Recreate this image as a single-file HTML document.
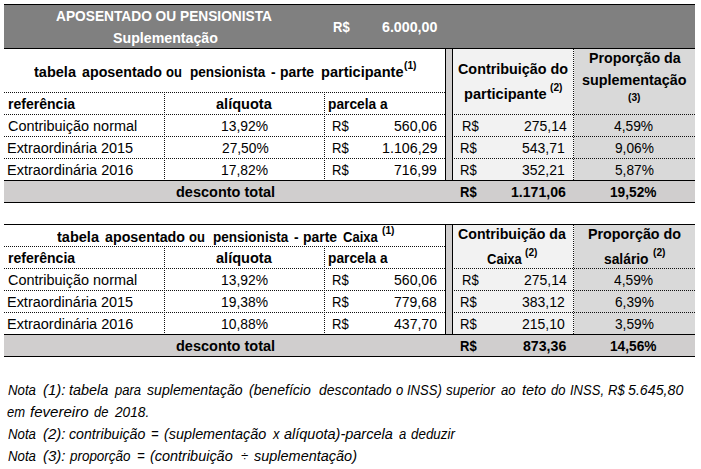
<!DOCTYPE html>
<html lang="pt"><head><meta charset="utf-8"><title>Tabela aposentado ou pensionista</title>
<style>
html,body{margin:0;padding:0;background:#fff;}
body{width:701px;height:469px;position:relative;overflow:hidden;font-family:"Liberation Sans",sans-serif;}
.r{position:absolute;}
.t{position:absolute;white-space:pre;line-height:20px;color:#000;}
</style></head><body>
<div class="r" style="left:4px;top:4px;width:691px;height:45px;background:#808080"></div>
<div class="r" style="left:4px;top:4px;width:691px;height:1px;background:#000"></div>
<div class="r" style="left:4px;top:48px;width:691px;height:1px;background:#000"></div>
<div class="r" style="left:453px;top:49px;width:120px;height:131px;background:#f2f2f2"></div>
<div class="r" style="left:574px;top:49px;width:121px;height:131px;background:#d9d9d9"></div>
<div class="r" style="left:446px;top:49px;width:6px;height:131px;background:#d0cece"></div>
<div class="r" style="left:445px;top:49px;width:1px;height:131px;background:#000"></div>
<div class="r" style="left:452px;top:49px;width:1px;height:131px;background:#000"></div>
<div class="r" style="left:573px;top:49px;width:1px;height:131px;background:repeating-linear-gradient(to bottom,#111 0 1px,transparent 1px 2px)"></div>
<div class="r" style="left:164px;top:92px;width:1px;height:88px;background:repeating-linear-gradient(to bottom,#111 0 1px,transparent 1px 2px)"></div>
<div class="r" style="left:324px;top:92px;width:1px;height:88px;background:repeating-linear-gradient(to bottom,#111 0 1px,transparent 1px 2px)"></div>
<div class="r" style="left:4px;top:92px;width:441px;height:1px;background:repeating-linear-gradient(to right,#111 0 1px,transparent 1px 2px)"></div>
<div class="r" style="left:4px;top:114px;width:441px;height:1px;background:repeating-linear-gradient(to right,#111 0 1px,transparent 1px 2px)"></div>
<div class="r" style="left:454px;top:114px;width:241px;height:1px;background:repeating-linear-gradient(to right,#111 0 1px,transparent 1px 2px)"></div>
<div class="r" style="left:4px;top:136px;width:441px;height:1px;background:repeating-linear-gradient(to right,#111 0 1px,transparent 1px 2px)"></div>
<div class="r" style="left:454px;top:136px;width:241px;height:1px;background:repeating-linear-gradient(to right,#111 0 1px,transparent 1px 2px)"></div>
<div class="r" style="left:4px;top:158px;width:441px;height:1px;background:repeating-linear-gradient(to right,#111 0 1px,transparent 1px 2px)"></div>
<div class="r" style="left:454px;top:158px;width:241px;height:1px;background:repeating-linear-gradient(to right,#111 0 1px,transparent 1px 2px)"></div>
<div class="r" style="left:4px;top:180px;width:691px;height:23px;background:#d0cece"></div>
<div class="r" style="left:4px;top:180px;width:691px;height:1px;background:#000"></div>
<div class="r" style="left:4px;top:202px;width:691px;height:1px;background:#000"></div>
<div class="r" style="left:453px;top:225px;width:120px;height:109px;background:#f2f2f2"></div>
<div class="r" style="left:574px;top:225px;width:121px;height:109px;background:#d9d9d9"></div>
<div class="r" style="left:446px;top:225px;width:6px;height:109px;background:#d0cece"></div>
<div class="r" style="left:445px;top:225px;width:1px;height:109px;background:#000"></div>
<div class="r" style="left:452px;top:225px;width:1px;height:109px;background:#000"></div>
<div class="r" style="left:4px;top:224px;width:691px;height:1px;background:#000"></div>
<div class="r" style="left:573px;top:225px;width:1px;height:109px;background:repeating-linear-gradient(to bottom,#111 0 1px,transparent 1px 2px)"></div>
<div class="r" style="left:164px;top:246px;width:1px;height:88px;background:repeating-linear-gradient(to bottom,#111 0 1px,transparent 1px 2px)"></div>
<div class="r" style="left:324px;top:246px;width:1px;height:88px;background:repeating-linear-gradient(to bottom,#111 0 1px,transparent 1px 2px)"></div>
<div class="r" style="left:4px;top:246px;width:441px;height:1px;background:repeating-linear-gradient(to right,#111 0 1px,transparent 1px 2px)"></div>
<div class="r" style="left:4px;top:268px;width:441px;height:1px;background:repeating-linear-gradient(to right,#111 0 1px,transparent 1px 2px)"></div>
<div class="r" style="left:454px;top:268px;width:241px;height:1px;background:repeating-linear-gradient(to right,#111 0 1px,transparent 1px 2px)"></div>
<div class="r" style="left:4px;top:290px;width:441px;height:1px;background:repeating-linear-gradient(to right,#111 0 1px,transparent 1px 2px)"></div>
<div class="r" style="left:454px;top:290px;width:241px;height:1px;background:repeating-linear-gradient(to right,#111 0 1px,transparent 1px 2px)"></div>
<div class="r" style="left:4px;top:312px;width:441px;height:1px;background:repeating-linear-gradient(to right,#111 0 1px,transparent 1px 2px)"></div>
<div class="r" style="left:454px;top:312px;width:241px;height:1px;background:repeating-linear-gradient(to right,#111 0 1px,transparent 1px 2px)"></div>
<div class="r" style="left:4px;top:334px;width:691px;height:23px;background:#d0cece"></div>
<div class="r" style="left:4px;top:334px;width:691px;height:1px;background:#000"></div>
<div class="r" style="left:4px;top:356px;width:691px;height:1px;background:#000"></div>
<span class="t" style="left:56.30px;top:6.00px;font-size:14px;font-weight:bold;color:#fff;transform-origin:0 15.00px;transform:scaleX(0.9801);">APOSENTADO OU PENSIONISTA</span>
<span class="t" style="left:112.50px;top:28.00px;font-size:14px;font-weight:bold;color:#fff;transform-origin:0 15.00px;transform:scaleX(1.0134);">Suplementação</span>
<span class="t" style="left:333.18px;top:17.00px;font-size:14px;font-weight:bold;color:#fff;transform-origin:0 15.00px;transform:scaleX(0.9300);">R$</span>
<span class="t" style="left:382.20px;top:17.00px;font-size:14px;font-weight:bold;color:#fff;transform-origin:0 15.00px;transform:scaleX(1.0163);">6.000,00</span>
<span class="t" style="left:34.30px;top:62.00px;font-size:14px;font-weight:bold;transform-origin:0 15.00px;transform:scaleX(1.0375);">tabela</span>
<span class="t" style="left:82.00px;top:62.00px;font-size:14px;font-weight:bold;transform-origin:0 15.00px;transform:scaleX(1.0178);">aposentado</span>
<span class="t" style="left:166.15px;top:62.00px;font-size:14px;font-weight:bold;transform-origin:0 15.00px;transform:scaleX(0.9300);">ou</span>
<span class="t" style="left:189.60px;top:62.00px;font-size:14px;font-weight:bold;transform-origin:0 15.00px;transform:scaleX(0.9666);">pensionista</span>
<span class="t" style="left:270.60px;top:62.00px;font-size:14px;font-weight:bold;transform-origin:0 15.00px;transform:scaleX(0.9800);">-</span>
<span class="t" style="left:280.40px;top:62.00px;font-size:14px;font-weight:bold;transform-origin:0 15.00px;transform:scaleX(0.9957);">parte</span>
<span class="t" style="left:320.60px;top:62.00px;font-size:14px;font-weight:bold;transform-origin:0 15.00px;transform:scaleX(1.0394);">participante</span>
<span class="t" style="left:403.54px;top:55.00px;font-size:11.0px;font-weight:bold;transform-origin:0 14.00px;transform:scaleX(0.9300);">(1)</span>
<span class="t" style="left:8.00px;top:94.00px;font-size:14px;font-weight:bold;transform-origin:0 15.00px;transform:scaleX(1.0023);">referência</span>
<span class="t" style="left:216.40px;top:94.00px;font-size:14px;font-weight:bold;transform-origin:0 15.00px;transform:scaleX(1.0393);">alíquota</span>
<span class="t" style="left:328.30px;top:94.00px;font-size:14px;font-weight:bold;transform-origin:0 15.00px;transform:scaleX(0.9816);">parcela a</span>
<span class="t" style="left:8.00px;top:116.00px;font-size:14px;transform-origin:0 15.00px;transform:scaleX(1.0314);">Contribuição normal</span>
<span class="t" style="left:221.21px;top:116.00px;font-size:14px;transform-origin:0 15.00px;transform:scaleX(0.9906);">13,92%</span>
<span class="t" style="left:332.06px;top:116.00px;font-size:14px;transform-origin:0 15.00px;transform:scaleX(0.9351);">R$</span>
<span class="t" style="left:394.20px;top:116.00px;font-size:14px;transform-origin:0 15.00px;transform:scaleX(1.0039);">560,06</span>
<span class="t" style="left:6.97px;top:138.00px;font-size:14px;transform-origin:0 15.00px;transform:scaleX(1.0321);">Extraordinária 2015</span>
<span class="t" style="left:221.60px;top:138.00px;font-size:14px;transform-origin:0 15.00px;transform:scaleX(0.9823);">27,50%</span>
<span class="t" style="left:332.06px;top:138.00px;font-size:14px;transform-origin:0 15.00px;transform:scaleX(0.9351);">R$</span>
<span class="t" style="left:381.68px;top:138.00px;font-size:14px;transform-origin:0 15.00px;transform:scaleX(1.0184);">1.106,29</span>
<span class="t" style="left:6.97px;top:160.00px;font-size:14px;transform-origin:0 15.00px;transform:scaleX(1.0346);">Extraordinária 2016</span>
<span class="t" style="left:221.21px;top:160.00px;font-size:14px;transform-origin:0 15.00px;transform:scaleX(0.9906);">17,82%</span>
<span class="t" style="left:332.06px;top:160.00px;font-size:14px;transform-origin:0 15.00px;transform:scaleX(0.9351);">R$</span>
<span class="t" style="left:394.40px;top:160.00px;font-size:14px;transform-origin:0 15.00px;transform:scaleX(0.9992);">716,99</span>
<span class="t" style="left:175.80px;top:182.00px;font-size:14px;font-weight:bold;transform-origin:0 15.00px;transform:scaleX(1.0361);">desconto total</span>
<span class="t" style="left:458.30px;top:59.00px;font-size:14px;font-weight:bold;transform-origin:0 15.00px;transform:scaleX(1.0255);">Contribuição do</span>
<span class="t" style="left:464.00px;top:84.00px;font-size:14px;font-weight:bold;transform-origin:0 15.00px;transform:scaleX(1.0407);">participante</span>
<span class="t" style="left:550.49px;top:77.00px;font-size:11.0px;font-weight:bold;transform-origin:0 14.00px;transform:scaleX(0.9300);">(2)</span>
<span class="t" style="left:588.60px;top:48.00px;font-size:14px;font-weight:bold;transform-origin:0 15.00px;transform:scaleX(1.0160);">Proporção da</span>
<span class="t" style="left:582.00px;top:70.00px;font-size:14px;font-weight:bold;transform-origin:0 15.00px;transform:scaleX(1.0259);">suplementação</span>
<span class="t" style="left:627.59px;top:87.00px;font-size:11.0px;font-weight:bold;transform-origin:0 14.00px;transform:scaleX(0.9300);">(3)</span>
<span class="t" style="left:461.96px;top:116.00px;font-size:14px;transform-origin:0 15.00px;transform:scaleX(0.9351);">R$</span>
<span class="t" style="left:524.00px;top:116.00px;font-size:14px;transform-origin:0 15.00px;transform:scaleX(0.9992);">275,14</span>
<span class="t" style="left:614.30px;top:116.00px;font-size:14px;transform-origin:0 15.00px;transform:scaleX(0.9860);">4,59%</span>
<span class="t" style="left:459.96px;top:138.00px;font-size:14px;transform-origin:0 15.00px;transform:scaleX(0.9351);">R$</span>
<span class="t" style="left:522.00px;top:138.00px;font-size:14px;transform-origin:0 15.00px;transform:scaleX(0.9992);">543,71</span>
<span class="t" style="left:615.30px;top:138.00px;font-size:14px;transform-origin:0 15.00px;transform:scaleX(0.9784);">9,06%</span>
<span class="t" style="left:459.96px;top:160.00px;font-size:14px;transform-origin:0 15.00px;transform:scaleX(0.9351);">R$</span>
<span class="t" style="left:522.00px;top:160.00px;font-size:14px;transform-origin:0 15.00px;transform:scaleX(0.9992);">352,21</span>
<span class="t" style="left:615.30px;top:160.00px;font-size:14px;transform-origin:0 15.00px;transform:scaleX(0.9784);">5,87%</span>
<span class="t" style="left:459.93px;top:182.00px;font-size:14px;font-weight:bold;transform-origin:0 15.00px;transform:scaleX(0.9300);">R$</span>
<span class="t" style="left:510.90px;top:182.00px;font-size:14px;font-weight:bold;transform-origin:0 15.00px;transform:scaleX(1.0071);">1.171,06</span>
<span class="t" style="left:610.40px;top:182.00px;font-size:14px;font-weight:bold;transform-origin:0 15.00px;transform:scaleX(0.9785);">19,52%</span>
<span class="t" style="left:57.30px;top:227.00px;font-size:14px;font-weight:bold;transform-origin:0 15.00px;transform:scaleX(1.0375);">tabela</span>
<span class="t" style="left:105.00px;top:227.00px;font-size:14px;font-weight:bold;transform-origin:0 15.00px;transform:scaleX(1.0178);">aposentado</span>
<span class="t" style="left:189.15px;top:227.00px;font-size:14px;font-weight:bold;transform-origin:0 15.00px;transform:scaleX(0.9300);">ou</span>
<span class="t" style="left:212.60px;top:227.00px;font-size:14px;font-weight:bold;transform-origin:0 15.00px;transform:scaleX(0.9666);">pensionista</span>
<span class="t" style="left:293.60px;top:227.00px;font-size:14px;font-weight:bold;transform-origin:0 15.00px;transform:scaleX(0.9800);">-</span>
<span class="t" style="left:303.40px;top:227.00px;font-size:14px;font-weight:bold;transform-origin:0 15.00px;transform:scaleX(0.9957);">parte</span>
<span class="t" style="left:342.78px;top:227.00px;font-size:14px;font-weight:bold;transform-origin:0 15.00px;transform:scaleX(0.9300);">Caixa</span>
<span class="t" style="left:381.89px;top:220.00px;font-size:11.0px;font-weight:bold;transform-origin:0 14.00px;transform:scaleX(0.9300);">(1)</span>
<span class="t" style="left:8.00px;top:248.00px;font-size:14px;font-weight:bold;transform-origin:0 15.00px;transform:scaleX(1.0023);">referência</span>
<span class="t" style="left:216.40px;top:248.00px;font-size:14px;font-weight:bold;transform-origin:0 15.00px;transform:scaleX(1.0393);">alíquota</span>
<span class="t" style="left:328.30px;top:248.00px;font-size:14px;font-weight:bold;transform-origin:0 15.00px;transform:scaleX(0.9816);">parcela a</span>
<span class="t" style="left:8.00px;top:270.00px;font-size:14px;transform-origin:0 15.00px;transform:scaleX(1.0314);">Contribuição normal</span>
<span class="t" style="left:221.21px;top:270.00px;font-size:14px;transform-origin:0 15.00px;transform:scaleX(0.9906);">13,92%</span>
<span class="t" style="left:332.06px;top:270.00px;font-size:14px;transform-origin:0 15.00px;transform:scaleX(0.9351);">R$</span>
<span class="t" style="left:394.20px;top:270.00px;font-size:14px;transform-origin:0 15.00px;transform:scaleX(1.0039);">560,06</span>
<span class="t" style="left:6.97px;top:292.00px;font-size:14px;transform-origin:0 15.00px;transform:scaleX(1.0321);">Extraordinária 2015</span>
<span class="t" style="left:221.21px;top:292.00px;font-size:14px;transform-origin:0 15.00px;transform:scaleX(0.9906);">19,38%</span>
<span class="t" style="left:332.06px;top:292.00px;font-size:14px;transform-origin:0 15.00px;transform:scaleX(0.9351);">R$</span>
<span class="t" style="left:394.40px;top:292.00px;font-size:14px;transform-origin:0 15.00px;transform:scaleX(0.9992);">779,68</span>
<span class="t" style="left:6.97px;top:314.00px;font-size:14px;transform-origin:0 15.00px;transform:scaleX(1.0346);">Extraordinária 2016</span>
<span class="t" style="left:221.21px;top:314.00px;font-size:14px;transform-origin:0 15.00px;transform:scaleX(0.9906);">10,88%</span>
<span class="t" style="left:332.06px;top:314.00px;font-size:14px;transform-origin:0 15.00px;transform:scaleX(0.9351);">R$</span>
<span class="t" style="left:394.20px;top:314.00px;font-size:14px;transform-origin:0 15.00px;transform:scaleX(1.0039);">437,70</span>
<span class="t" style="left:175.80px;top:336.00px;font-size:14px;font-weight:bold;transform-origin:0 15.00px;transform:scaleX(1.0361);">desconto total</span>
<span class="t" style="left:458.20px;top:224.00px;font-size:14px;font-weight:bold;transform-origin:0 15.00px;transform:scaleX(1.0115);">Contribuição da</span>
<span class="t" style="left:486.83px;top:249.00px;font-size:14px;font-weight:bold;transform-origin:0 15.00px;transform:scaleX(0.9300);">Caixa</span>
<span class="t" style="left:525.49px;top:242.00px;font-size:11.0px;font-weight:bold;transform-origin:0 14.00px;transform:scaleX(0.9300);">(2)</span>
<span class="t" style="left:588.00px;top:224.00px;font-size:14px;font-weight:bold;transform-origin:0 15.00px;transform:scaleX(1.0226);">Proporção do</span>
<span class="t" style="left:604.00px;top:249.00px;font-size:14px;font-weight:bold;transform-origin:0 15.00px;transform:scaleX(0.9869);">salário</span>
<span class="t" style="left:652.59px;top:242.00px;font-size:11.0px;font-weight:bold;transform-origin:0 14.00px;transform:scaleX(0.9300);">(2)</span>
<span class="t" style="left:461.96px;top:270.00px;font-size:14px;transform-origin:0 15.00px;transform:scaleX(0.9351);">R$</span>
<span class="t" style="left:524.00px;top:270.00px;font-size:14px;transform-origin:0 15.00px;transform:scaleX(0.9992);">275,14</span>
<span class="t" style="left:614.30px;top:270.00px;font-size:14px;transform-origin:0 15.00px;transform:scaleX(0.9860);">4,59%</span>
<span class="t" style="left:459.96px;top:292.00px;font-size:14px;transform-origin:0 15.00px;transform:scaleX(0.9351);">R$</span>
<span class="t" style="left:522.00px;top:292.00px;font-size:14px;transform-origin:0 15.00px;transform:scaleX(0.9992);">383,12</span>
<span class="t" style="left:615.30px;top:292.00px;font-size:14px;transform-origin:0 15.00px;transform:scaleX(0.9784);">6,39%</span>
<span class="t" style="left:459.96px;top:314.00px;font-size:14px;transform-origin:0 15.00px;transform:scaleX(0.9351);">R$</span>
<span class="t" style="left:522.00px;top:314.00px;font-size:14px;transform-origin:0 15.00px;transform:scaleX(0.9992);">215,10</span>
<span class="t" style="left:615.30px;top:314.00px;font-size:14px;transform-origin:0 15.00px;transform:scaleX(0.9784);">3,59%</span>
<span class="t" style="left:459.93px;top:336.00px;font-size:14px;font-weight:bold;transform-origin:0 15.00px;transform:scaleX(0.9300);">R$</span>
<span class="t" style="left:522.50px;top:336.00px;font-size:14px;font-weight:bold;transform-origin:0 15.00px;transform:scaleX(1.0108);">873,36</span>
<span class="t" style="left:610.40px;top:336.00px;font-size:14px;font-weight:bold;transform-origin:0 15.00px;transform:scaleX(0.9785);">14,56%</span>
<span class="t" style="left:7.60px;top:380.00px;font-size:14px;font-style:italic;transform-origin:0 15.00px;transform:scaleX(0.9434);">Nota</span>
<span class="t" style="left:43.20px;top:380.00px;font-size:14px;font-style:italic;transform-origin:0 15.00px;transform:scaleX(1.0706);">(1):</span>
<span class="t" style="left:69.00px;top:380.00px;font-size:14px;font-style:italic;transform-origin:0 15.00px;transform:scaleX(1.0298);">tabela</span>
<span class="t" style="left:114.74px;top:380.00px;font-size:14px;font-style:italic;transform-origin:0 15.00px;transform:scaleX(0.9300);">para</span>
<span class="t" style="left:147.00px;top:380.00px;font-size:14px;font-style:italic;transform-origin:0 15.00px;transform:scaleX(1.0077);">suplementação</span>
<span class="t" style="left:249.20px;top:380.00px;font-size:14px;font-style:italic;transform-origin:0 15.00px;transform:scaleX(1.0049);">(benefício</span>
<span class="t" style="left:318.80px;top:380.00px;font-size:14px;font-style:italic;transform-origin:0 15.00px;transform:scaleX(1.0027);">descontado</span>
<span class="t" style="left:396.13px;top:380.00px;font-size:14px;font-style:italic;transform-origin:0 15.00px;transform:scaleX(0.9300);">o</span>
<span class="t" style="left:406.95px;top:380.00px;font-size:14px;font-style:italic;transform-origin:0 15.00px;transform:scaleX(0.9300);">INSS)</span>
<span class="t" style="left:445.60px;top:380.00px;font-size:14px;font-style:italic;transform-origin:0 15.00px;transform:scaleX(0.9669);">superior</span>
<span class="t" style="left:501.16px;top:380.00px;font-size:14px;font-style:italic;transform-origin:0 15.00px;transform:scaleX(0.9300);">ao</span>
<span class="t" style="left:521.60px;top:380.00px;font-size:14px;font-style:italic;transform-origin:0 15.00px;transform:scaleX(1.0354);">teto</span>
<span class="t" style="left:551.36px;top:380.00px;font-size:14px;font-style:italic;transform-origin:0 15.00px;transform:scaleX(0.9300);">do</span>
<span class="t" style="left:570.36px;top:380.00px;font-size:14px;font-style:italic;transform-origin:0 15.00px;transform:scaleX(0.9300);">INSS,</span>
<span class="t" style="left:607.63px;top:380.00px;font-size:14px;font-style:italic;transform-origin:0 15.00px;transform:scaleX(0.9300);">R$</span>
<span class="t" style="left:628.40px;top:380.00px;font-size:14px;font-style:italic;transform-origin:0 15.00px;transform:scaleX(1.0144);">5.645,80</span>
<span class="t" style="left:7.15px;top:402.00px;font-size:14px;font-style:italic;transform-origin:0 15.00px;transform:scaleX(0.9300);">em</span>
<span class="t" style="left:29.60px;top:402.00px;font-size:14px;font-style:italic;transform-origin:0 15.00px;transform:scaleX(1.0753);">fevereiro</span>
<span class="t" style="left:94.11px;top:402.00px;font-size:14px;font-style:italic;transform-origin:0 15.00px;transform:scaleX(0.9300);">de</span>
<span class="t" style="left:115.18px;top:402.00px;font-size:14px;font-style:italic;transform-origin:0 15.00px;transform:scaleX(0.9788);">2018.</span>
<span class="t" style="left:7.60px;top:424.00px;font-size:14px;font-style:italic;transform-origin:0 15.00px;transform:scaleX(0.9434);">Nota</span>
<span class="t" style="left:43.20px;top:424.00px;font-size:14px;font-style:italic;transform-origin:0 15.00px;transform:scaleX(1.0706);">(2):</span>
<span class="t" style="left:69.00px;top:424.00px;font-size:14px;font-style:italic;transform-origin:0 15.00px;transform:scaleX(1.0118);">contribuição</span>
<span class="t" style="left:151.33px;top:424.00px;font-size:14px;font-style:italic;transform-origin:0 15.00px;transform:scaleX(0.9300);">=</span>
<span class="t" style="left:164.40px;top:424.00px;font-size:14px;font-style:italic;transform-origin:0 15.00px;transform:scaleX(1.0258);">(suplementação</span>
<span class="t" style="left:272.70px;top:424.00px;font-size:14px;font-style:italic;transform-origin:0 15.00px;transform:scaleX(0.9300);">x</span>
<span class="t" style="left:284.40px;top:424.00px;font-size:14px;font-style:italic;transform-origin:0 15.00px;transform:scaleX(1.0354);">alíquota)-parcela</span>
<span class="t" style="left:398.88px;top:424.00px;font-size:14px;font-style:italic;transform-origin:0 15.00px;transform:scaleX(0.9300);">a</span>
<span class="t" style="left:411.00px;top:424.00px;font-size:14px;font-style:italic;transform-origin:0 15.00px;transform:scaleX(0.9565);">deduzir</span>
<span class="t" style="left:7.60px;top:446.00px;font-size:14px;font-style:italic;transform-origin:0 15.00px;transform:scaleX(0.9434);">Nota</span>
<span class="t" style="left:43.20px;top:446.00px;font-size:14px;font-style:italic;transform-origin:0 15.00px;transform:scaleX(1.0706);">(3):</span>
<span class="t" style="left:69.96px;top:446.00px;font-size:14px;font-style:italic;transform-origin:0 15.00px;transform:scaleX(0.9587);">proporção</span>
<span class="t" style="left:136.80px;top:446.00px;font-size:14px;font-style:italic;transform-origin:0 15.00px;transform:scaleX(0.9500);">=</span>
<span class="t" style="left:150.00px;top:446.00px;font-size:14px;font-style:italic;transform-origin:0 15.00px;transform:scaleX(1.0315);">(contribuição</span>
<span class="t" style="left:241.13px;top:446.00px;font-size:14px;font-style:italic;transform-origin:0 15.00px;transform:scaleX(0.9300);">÷</span>
<span class="t" style="left:254.20px;top:446.00px;font-size:14px;font-style:italic;transform-origin:0 15.00px;transform:scaleX(1.0338);">suplementação)</span>
</body></html>
